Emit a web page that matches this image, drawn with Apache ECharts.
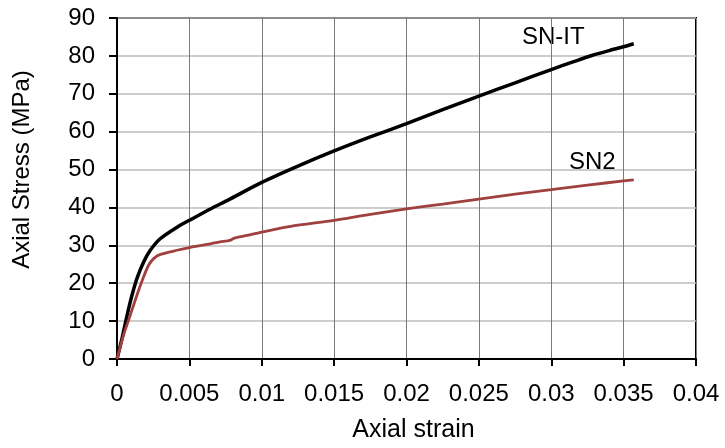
<!DOCTYPE html>
<html>
<head>
    <meta charset="utf-8" />
    <title>Axial stress-strain</title>
    <script src="https://cdn.jsdelivr.net/npm/echarts@6.0.0/dist/echarts.min.js"></script>
</head>
<body style="margin:0">
    <div id="main" style="width: 725px;height:448px;"></div>
    <script type="text/javascript">
        // strain / stress pairs
        var snItStrain = [0, 0.00035, 0.0007, 0.00104, 0.00138, 0.00184, 0.0023, 0.003, 0.00415, 0.005, 0.00645, 0.0077, 0.01, 0.0125, 0.015, 0.0175, 0.02, 0.0225, 0.025, 0.0275, 0.03, 0.0315, 0.0328, 0.034, 0.035, 0.0357];
        var snItStress = [0, 5.5, 11.6, 16.9, 21.3, 25.6, 28.7, 31.8, 34.8, 36.6, 39.6, 42, 46.6, 50.9, 54.9, 58.6, 62.1, 65.8, 69.4, 72.9, 76.4, 78.4, 80.1, 81.4, 82.4, 83.2];
        var sn2Strain = [0, 0.00046, 0.00092, 0.00138, 0.00184, 0.00219, 0.00253, 0.003, 0.00415, 0.005, 0.00645, 0.0071, 0.0078, 0.0081, 0.009, 0.01, 0.012, 0.015, 0.0175, 0.02, 0.0225, 0.025, 0.0275, 0.03, 0.0325, 0.035, 0.0357];
        var sn2Stress = [0, 6.4, 11.6, 16.9, 21.7, 24.8, 26.5, 27.6, 28.7, 29.4, 30.4, 30.9, 31.3, 31.9, 32.6, 33.5, 35, 36.6, 38.2, 39.6, 40.9, 42.2, 43.5, 44.7, 45.9, 47, 47.3];
        var curveNames = ['SN-IT', 'SN2'];
        var curveColors = ['#000000', '#a0403f'];

        function pairs(xs, ys) {
            var out = [];
            for (var i = 0; i < xs.length; i++) {
                out.push([xs[i], ys[i]]);
            }
            return out;
        }

        var myChart = echarts.init(document.getElementById('main'));
        var font = 'Liberation Sans, Arial, sans-serif';

        var option = {
            animation: false,
            grid: {
                left: 117,
                top: 18,
                right: 29,
                bottom: 87,
                show: true,
                borderColor: '#000',
                borderWidth: 2
            },
            xAxis: {
                type: 'value',
                min: 0,
                max: 0.04,
                interval: 0.005,
                name: 'Axial strain',
                nameLocation: 'middle',
                nameGap: 59,
                nameTextStyle: { fontSize: 25, color: '#000', fontFamily: font, padding: [0, 0, 0, 14] },
                axisLine: { lineStyle: { color: '#000', width: 2 } },
                axisTick: { show: true, length: 7, lineStyle: { color: '#000', width: 2 } },
                axisLabel: { fontSize: 24, color: '#000', fontFamily: font, margin: 23 },
                splitLine: { show: true, lineStyle: { color: '#7a7a7a', width: 1 } }
            },
            yAxis: {
                type: 'value',
                min: 0,
                max: 90,
                interval: 10,
                name: 'Axial Stress (MPa)',
                nameLocation: 'middle',
                nameGap: 83,
                nameTextStyle: { fontSize: 24, color: '#000', fontFamily: font, padding: [0, 0, 0, 38] },
                axisLine: { lineStyle: { color: '#000', width: 2 } },
                axisTick: { show: true, length: 8, lineStyle: { color: '#000', width: 2 } },
                axisLabel: { fontSize: 24, color: '#000', fontFamily: font, margin: 22 },
                splitLine: { show: true, lineStyle: { color: '#bdbdbd', width: 1.5 } }
            },
            series: [
                {
                    name: curveNames[0],
                    type: 'line',
                    showSymbol: false,
                    smooth: 0.25,
                    data: pairs(snItStrain, snItStress),
                    lineStyle: { color: curveColors[0], width: 3.5 },
                    z: 3
                },
                {
                    name: curveNames[1],
                    type: 'line',
                    showSymbol: false,
                    smooth: 0.25,
                    data: pairs(sn2Strain, sn2Stress),
                    lineStyle: { color: curveColors[1], width: 2.8 },
                    z: 4
                }
            ],
            graphic: [
                {
                    type: 'text', left: 522, top: 25,
                    style: { text: curveNames[0], fill: '#000', font: '24px Liberation Sans' }
                },
                {
                    type: 'text', left: 569, top: 150,
                    style: { text: curveNames[1], fill: '#000', font: '24px Liberation Sans' }
                }
            ]
        };

        myChart.setOption(option);
    </script>
</body>
</html>
